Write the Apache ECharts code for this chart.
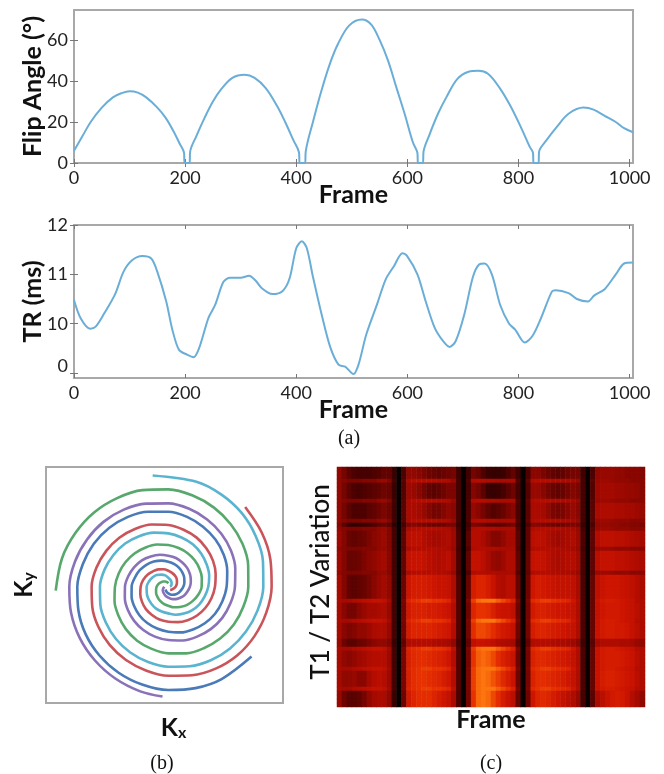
<!DOCTYPE html>
<html><head><meta charset="utf-8"><style>html,body{margin:0;padding:0;background:#fff}#c{width:664px;height:774px}</style>
<script src="https://cdn.jsdelivr.net/npm/echarts@6/dist/echarts.min.js"></script></head><body><div id="c"></div>
<script>
const frameTicks=[0,200,400,600,800,1000];
const flipTicks=[0,20,40,60];
const trTicks=[9,10,11,12];
const trLabelAt=[9.14,10,11,12];
const trTickLabels={9.14:'0',10:'10',11:'11',12:'12'};
const flipFrames=[0,15,30,50,70,85,100,115,130,150,165,180,190,198,199,208,209,220,235,250,265,285,307,325,345,365,380,395,405,406,416,417,430,445,460,475,495,518,535,550,565,580,595,610,618,619,628,629,640,655,670,690,710,728,745,765,785,805,820,826,827,836,837,850,870,890,917,935,955,975,990,1006];
const flipValues=[6,13,20,27,32,34,35,34.3,32,27,22,15,9.5,5,0,0,5.5,13,22,30,36,41.5,43,41.5,36.5,28,20,11,5,0,0,5.5,20,35,48,58,67,70,67.5,60,50,37,24,10,5,0,0,5.5,14,24,32,41,44.5,45,43.5,37,28,17,8,5,0,0,5.5,11,18,24,27,26,23,20,17,15];
const trFrames=[0,12,29,39,54,74,89,104,123,139,150,166,177,189,204,215,225,242,254,269,281,300,315,327,338,357,376,388,400,410,419,430,446,461,476,488,503,512,526,545,561,576,591,599,618,633,649,664,676,687,702,718,729,739,752,767,783,794,811,825,840,860,867,890,905,925,936,955,975,990,1006];
const trValues=[10.48,10.11,9.9,9.94,10.2,10.6,11.05,11.28,11.37,11.32,11.05,10.45,9.88,9.47,9.37,9.32,9.5,10.12,10.38,10.85,10.93,10.93,10.97,10.87,10.72,10.6,10.67,10.92,11.53,11.67,11.53,10.95,10.17,9.53,9.17,9.13,8.98,9.17,9.78,10.38,10.9,11.17,11.43,11.38,11,10.45,9.92,9.65,9.53,9.65,10.17,10.95,11.2,11.22,11,10.38,10,9.88,9.62,9.75,10.1,10.65,10.68,10.62,10.5,10.45,10.57,10.7,11,11.22,11.24];
const redArm=[[332,46],[324,30],[317,15],[310,0],[304,345],[298,330],[292,315],[284,300],[275,285],[267,270],[260,255],[254,240],[248,225],[242,210],[236,195],[230,180],[223,165],[215,150],[208,135],[200,120],[193,105],[185,90],[177,75],[170,60],[162,45],[155,30],[147,15],[140,0],[134,345],[128,330],[122,315],[116,300],[110,285],[105,270],[102,255],[98,240],[95,225],[91,210],[87,195],[83,180],[78,165],[72,150],[65,135],[60,120],[54,105],[48,90],[43,75],[39,60],[35,45],[30,30],[26,15],[22,0],[18,345],[15,330],[13,315],[11,300]];
const cyanArm=[[337,98],[326,75],[319,60],[312,45],[303,30],[294,15],[285,0],[277,345],[269,330],[262,315],[255,300],[247,285],[240,270],[234,255],[228,240],[222,225],[216,210],[211,195],[205,180],[198,165],[190,150],[183,135],[175,120],[168,105],[160,90],[153,75],[147,60],[140,45],[133,30],[127,15],[120,0],[113,345],[107,330],[100,315],[93,300],[87,285],[80,270],[77,255],[75,240],[72,225],[70,210],[67,195],[65,180],[60,165],[55,150],[50,135],[42,120],[35,105],[27,90],[22,75],[18,60],[14,45],[11,30],[8,15],[5,0]];
const greenArm=[[338,182],[330,165],[322,150],[315,135],[307,120],[300,105],[292,90],[283,75],[274,60],[265,45],[257,30],[248,15],[240,0],[233,345],[227,330],[220,315],[213,300],[207,285],[200,270],[193,255],[187,240],[180,225],[173,210],[167,195],[160,180],[154,165],[148,150],[142,135],[136,120],[131,105],[125,90],[120,75],[116,60],[112,45],[108,30],[104,15],[100,0],[93,345],[85,330],[78,315],[70,300],[64,285],[57,270],[53,255],[49,240],[45,225],[42,210],[38,195],[35,180],[31,165],[26,150],[22,135],[18,120],[14,105],[10,90]];
const purpleArm=[[330,267],[325,255],[318,240],[312,225],[307,210],[302,195],[297,180],[290,165],[282,150],[275,135],[267,120],[258,105],[250,90],[242,75],[233,60],[225,45],[217,30],[208,15],[200,0],[193,345],[187,330],[180,315],[173,300],[167,285],[160,270],[155,255],[150,240],[145,225],[140,210],[135,195],[130,180],[124,165],[118,150],[112,135],[105,120],[99,105],[93,90],[89,75],[84,60],[80,45],[75,30],[70,15],[65,0],[59,345],[54,330],[48,315],[43,300],[38,285],[33,270],[29,255],[25,240],[22,225],[19,210],[15,195],[12,180]];
const blueArm=[[326,320],[320,300],[315,285],[310,270],[304,255],[298,240],[292,225],[286,210],[279,195],[273,180],[265,165],[258,150],[250,135],[242,120],[233,105],[225,90],[217,75],[208,60],[200,45],[192,30],[183,15],[175,0],[168,345],[162,330],[155,315],[148,300],[142,285],[135,270],[130,255],[126,240],[122,225],[118,210],[114,195],[110,180],[104,165],[99,150],[93,135],[87,120],[81,105],[75,90],[70,75],[65,60],[60,45],[55,30],[50,15],[45,0],[40,345],[36,330],[32,315],[28,300],[24,285],[20,270],[17,255],[14,240],[12,225]];
const A=[50,42,34,30,28,28,28,30,32,36,36,24,4,30,50,50,48,44,40,38,36,38,40,42,26,3,26,42,38,30,24,22,22,24,30,36,26,4,30,48,48,44,40,36,34,36,40,42,42,26,5,30,50,52,52,52,50,50,48,48,48,46];
const B=[50,42,34,30,28,30,32,34,36,40,38,24,4,32,54,52,48,42,36,34,36,40,44,44,28,3,28,46,42,34,24,22,24,28,34,40,28,4,32,52,52,48,42,38,36,38,42,46,44,28,5,32,54,56,56,56,54,54,52,52,50,48];
const C=[50,42,34,30,30,30,34,36,40,44,40,26,4,34,58,58,56,52,46,42,42,46,50,48,28,3,30,52,48,42,36,32,34,38,44,48,30,4,34,58,58,56,50,44,42,44,48,52,48,28,5,34,58,60,60,60,58,58,56,56,54,52];
const D=[54,46,38,36,38,40,44,48,50,54,46,28,4,36,64,66,66,62,58,56,56,58,60,54,30,3,34,62,62,58,52,46,46,50,56,56,34,4,36,64,66,64,60,56,54,56,58,60,54,30,5,36,62,66,66,66,64,64,62,60,58,56];
const E=[54,46,38,38,40,44,48,50,54,56,48,28,4,38,68,70,70,68,64,62,60,62,64,56,30,3,36,68,68,64,58,52,50,54,60,60,36,4,38,68,70,68,64,60,58,60,62,62,56,30,5,36,64,68,68,68,66,66,64,62,60,58];
const F=[56,46,36,34,36,38,42,48,52,56,50,28,4,40,72,76,76,76,74,72,70,70,68,60,32,3,38,76,80,80,76,70,62,60,64,64,38,4,40,72,76,74,72,70,68,68,68,66,58,30,5,38,66,70,72,72,72,70,68,66,62,58];
const G=[56,48,42,42,48,52,56,56,58,60,52,28,4,42,74,78,78,78,76,76,74,72,70,62,32,3,40,80,86,86,84,78,72,70,70,66,40,4,42,74,78,78,76,74,72,72,70,68,60,30,5,38,68,72,74,74,74,72,70,68,64,60];
const H=[56,48,44,46,50,50,54,58,60,60,52,28,4,42,76,80,80,80,80,78,76,74,72,62,32,3,42,84,90,90,88,84,78,74,72,68,40,4,42,76,80,80,78,76,74,72,70,68,60,30,5,38,70,74,76,76,74,74,72,68,64,60];
const I=[56,50,48,50,54,56,60,62,62,62,54,28,4,44,78,82,84,84,82,80,78,76,72,62,32,3,42,86,94,96,94,90,84,78,74,70,40,4,42,78,82,82,80,78,76,74,72,68,60,30,5,38,70,74,76,76,76,74,72,70,64,60];
const J=[56,50,50,52,48,48,56,62,64,62,54,28,4,44,78,84,86,86,84,82,80,76,72,62,32,3,44,88,96,98,96,92,88,82,76,70,40,4,42,78,84,84,82,80,78,76,72,68,60,30,5,38,70,76,78,78,76,74,72,70,64,60];
const K=[52,40,34,34,36,42,50,56,58,58,50,24,4,40,74,80,84,84,84,80,76,72,68,58,30,3,42,86,96,98,96,90,84,76,70,64,38,4,40,72,80,82,80,76,72,68,64,60,52,28,5,34,58,64,70,74,76,74,70,62,56,50];
const lineDim=[50,46,44,44,44,46,46,46,50,52,46,28,4,34,58,62,62,62,62,62,60,60,58,52,28,3,30,60,62,62,60,60,58,58,58,58,32,4,36,60,62,62,62,60,60,58,58,56,52,28,5,34,52,54,54,52,50,50,50,48,48,48];
const lineBright=[58,56,56,60,62,64,66,68,68,66,56,28,4,44,80,84,86,88,88,86,86,84,80,66,32,3,44,88,96,98,98,98,94,90,86,78,44,4,44,82,86,88,88,86,84,82,80,72,62,30,5,38,70,74,76,76,74,72,70,68,62,60];
const darkTop=[46,34,22,20,22,24,26,30,34,38,34,20,4,28,44,46,44,42,40,38,38,40,42,42,24,3,26,44,42,40,36,34,34,36,40,42,28,4,30,46,46,44,42,40,38,40,42,44,42,24,5,30,50,52,52,50,50,48,48,46,46,44];
const darkLow=[52,40,34,34,38,40,44,48,50,50,46,24,4,36,60,62,62,62,62,60,58,58,56,50,28,3,36,66,70,70,68,66,62,60,58,56,34,4,36,60,62,62,62,60,58,58,56,54,48,26,5,34,56,60,60,60,60,58,58,56,52,50];
const rowProfiles=[A,A,A,lineDim,B,B,B,B,lineDim,C,C,C,C,lineDim,darkTop,lineDim,D,D,D,D,lineDim,E,E,E,E,E,lineDim,F,F,F,F,F,F,lineBright,G,G,G,G,lineBright,H,H,H,H,darkLow,darkLow,lineBright,I,I,I,I,lineBright,J,J,J,J,lineBright,K,K,K,K];
const heatData=[];rowProfiles.forEach((p,r)=>p.forEach((v,c)=>heatData.push([c,r,v])));
const hotColors=['#000000','#200000','#480100','#780500','#a80a00','#cc1400','#e63000','#ff8010'];
const armColors={red:'#c9545a',cyan:'#5ab4cf',green:'#58a86e',purple:'#8a72b8',blue:'#4a7ab8'};
const F1='Lato, "Open Sans", sans-serif',GR='#a8a8a8',LC='#6aaed8';
const zip=(a,b)=>a.map((v,i)=>[v,b[i]]);
const nameSt={fontFamily:F1,fontWeight:'bold',fontSize:25,color:'#111'};
const lab={fontFamily:F1,fontSize:18,color:'#222'};
function xMain(g,name,gap){return {gridIndex:g,type:'value',min:0,max:1006,name:name,nameLocation:'middle',nameMoveOverlap:false,nameGap:gap,nameTextStyle:nameSt,axisLine:{show:false},splitLine:{show:false},axisTick:{inside:true,length:4,lineStyle:{color:'#777'},customValues:frameTicks},axisLabel:{...lab,margin:6,customValues:frameTicks,formatter:v=>''+v}}}
function xTop(g){return {gridIndex:g,type:'value',position:'top',min:0,max:1006,axisLine:{show:false},splitLine:{show:false},axisLabel:{show:false},axisTick:{inside:true,length:4,lineStyle:{color:'#777'},customValues:frameTicks}}}
function yMirror(g,mn,mx,t){return {gridIndex:g,type:'value',position:'right',min:mn,max:mx,axisLine:{show:false},splitLine:{show:false},axisLabel:{show:false},axisTick:{inside:true,length:4,lineStyle:{color:'#777'},customValues:t}}}
const hidden={show:false};
const option={animation:false,backgroundColor:'#fff',
title:[['(a)',344,424],['(b)',157,749],['(c)',486,749]].map(t=>({text:t[0],left:t[1],top:t[2],textAlign:'center',textStyle:{fontFamily:'"Liberation Serif",serif',fontWeight:'normal',fontSize:20,color:'#111'}})),
visualMap:{show:false,seriesIndex:7,min:0,max:100,inRange:{color:hotColors}},
grid:[
 {left:74,top:10,width:559,height:153,show:true,borderColor:GR,borderWidth:2},
 {left:74,top:225,width:559,height:153,show:true,borderColor:GR,borderWidth:2},
 {left:46,top:467,width:237,height:236,show:true,borderColor:GR,borderWidth:2},
 {left:337,top:467,width:308,height:240,show:false}],
polar:{center:[168.3,586.7],radius:120},
angleAxis:{min:0,max:360,startAngle:0,clockwise:false,show:false},
radiusAxis:{min:0,max:360,show:false},
xAxis:[xMain(0,'Frame',19),xTop(0),xMain(1,'Frame',19),xTop(1),
 {gridIndex:2,type:'value',min:0,max:1,axisLine:hidden,axisTick:hidden,axisLabel:hidden,splitLine:hidden,name:'{b|K}{s|x}',nameLocation:'middle',nameGap:12,nameTextStyle:{padding:[0,0,0,18],rich:{b:{...nameSt},s:{...nameSt,fontSize:16,padding:[10,0,0,0]}}}},
 {gridIndex:3,type:'category',data:A.map((_,i)=>i),axisLine:hidden,axisTick:hidden,axisLabel:hidden,splitLine:hidden,name:'Frame',nameLocation:'middle',nameGap:0,nameTextStyle:nameSt}],
yAxis:[
 {gridIndex:0,type:'value',min:0,max:74.6,name:'Flip Angle (°)',nameLocation:'middle',nameMoveOverlap:false,nameGap:29,nameTextStyle:nameSt,axisLine:hidden,splitLine:hidden,axisTick:{inside:true,length:4,lineStyle:{color:'#777'},customValues:flipTicks},axisLabel:{...lab,margin:6,customValues:flipTicks,formatter:v=>''+v}},
 yMirror(0,0,74.6,flipTicks),
 {gridIndex:1,type:'value',min:8.9,max:12,name:'TR (ms)',nameLocation:'middle',nameMoveOverlap:false,nameGap:29,nameTextStyle:nameSt,axisLine:hidden,splitLine:hidden,axisTick:{inside:true,length:4,lineStyle:{color:'#777'},customValues:trTicks},axisLabel:{...lab,margin:6,customValues:trLabelAt,formatter:v=>trTickLabels[v]}},
 yMirror(1,8.9,12,trTicks),
 {gridIndex:2,type:'value',min:0,max:1,axisLine:hidden,axisTick:hidden,axisLabel:hidden,splitLine:hidden,name:'{b|K}{s|y}',nameLocation:'middle',nameGap:9,nameTextStyle:{rich:{b:{...nameSt},s:{...nameSt,fontSize:16,padding:[10,0,0,0]}}}},
 {gridIndex:3,type:'category',inverse:true,data:rowProfiles.map((_,i)=>i),axisLine:hidden,axisTick:hidden,axisLabel:hidden,splitLine:hidden,name:'T1 / T2 Variation',nameLocation:'middle',nameGap:3,nameTextStyle:{...nameSt,fontSize:26,fontWeight:500,padding:[0,0,0,10]}}],
series:[
 {name:'Flip Angle',type:'line',xAxisIndex:0,yAxisIndex:0,data:zip(flipFrames,flipValues),symbol:'none',smooth:0.35,lineStyle:{color:LC,width:2}},
 {name:'TR',type:'line',xAxisIndex:2,yAxisIndex:2,data:zip(trFrames,trValues),symbol:'none',smooth:0.3,lineStyle:{color:LC,width:2}},
 ...[['red',redArm],['cyan',cyanArm],['green',greenArm],['purple',purpleArm],['blue',blueArm]].map(a=>({name:a[0],type:'line',coordinateSystem:'polar',polarIndex:0,data:a[1],symbol:'none',smooth:0.33,clip:false,lineStyle:{color:armColors[a[0]],width:2.6,join:'round'}})),
 {name:'Signal',type:'heatmap',xAxisIndex:5,yAxisIndex:5,data:heatData,progressive:0}
]};
echarts.init(document.getElementById('c'),null,{renderer:'canvas'}).setOption(option);
</script></body></html>
